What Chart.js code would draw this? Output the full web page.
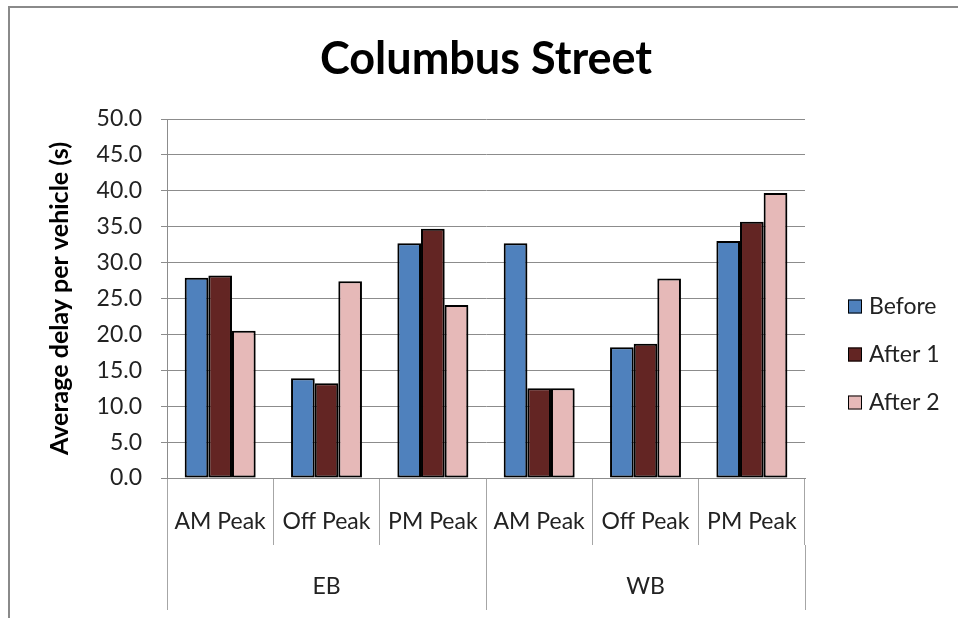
<!DOCTYPE html>
<html>
<head>
<meta charset="utf-8">
<title>Columbus Street</title>
<script src="https://cdn.jsdelivr.net/npm/chart.js@4.4.1/dist/chart.umd.min.js"></script>
<style>
  html, body { margin: 0; padding: 0; background: #fff; overflow: hidden; }
  #wrap { position: relative; width: 958px; height: 618px; }
  #wrap canvas { display: block; }
  /* thin grey frame around the chart */
  #frame {
    position: absolute; left: 8px; top: 6px; right: -10px; bottom: -10px;
    border-top: 2px solid #8a8a8a; border-left: 2px solid #8a8a8a;
    pointer-events: none;
  }
</style>
</head>
<body>
<div id="wrap">
  <canvas id="chart"></canvas>
  <div id="frame"></div>
</div>
<script>
// Time periods along the x axis, grouped by travel direction
const periods = ['AM Peak', 'Off Peak', 'PM Peak', 'AM Peak', 'Off Peak', 'PM Peak'];
const directions = ['EB', 'WB'];

// Average delay per vehicle (s)
const seriesNames = ['Before', 'After 1', 'After 2'];
const before = [27.9, 13.9, 32.7, 32.7, 18.2, 33.0];
const after1 = [28.2, 13.2, 34.7, 12.5, 18.7, 35.7];
const after2 = [20.5, 27.4, 24.1, 12.5, 27.8, 39.7];

const yTickLabels = ['0.0', '5.0', '10.0', '15.0', '20.0', '25.0', '30.0', '35.0', '40.0', '45.0', '50.0'];

const seriesColors = ['#4F81BD', '#632523', '#E6B9B8'];

Chart.defaults.font.family = 'Lato';
Chart.defaults.color = '#222';

// soft drop shadow under the bars
const barShadow = {
  id: 'barShadow',
  beforeDatasetsDraw(chart) {
    const c = chart.ctx;
    c.save();
    c.shadowColor = 'rgba(0,0,0,0.28)';
    c.shadowBlur = 3;
    c.shadowOffsetX = 1.5;
    c.shadowOffsetY = 1.5;
  },
  afterDatasetsDraw(chart) {
    chart.ctx.restore();
  }
};

// legend to the right of the plot, vertically centred on it
const sideLegend = {
  id: 'sideLegend',
  afterDraw(chart) {
    const { ctx, chartArea: a } = chart;
    const x = a.right + 43;
    const mid = (a.top + a.bottom) / 2 + 56;
    const gap = 48;
    const n = chart.data.datasets.length;
    ctx.save();
    ctx.font = '23px Lato';
    ctx.textBaseline = 'middle';
    ctx.textAlign = 'left';
    chart.data.datasets.forEach((ds, i) => {
      const y = mid + (i - (n - 1) / 2) * gap;
      ctx.fillStyle = ds.backgroundColor;
      ctx.fillRect(x, y - 7, 14, 14);
      ctx.strokeStyle = '#000';
      ctx.lineWidth = 1;
      ctx.strokeRect(x + 0.5, y - 6.5, 13, 13);
      ctx.fillStyle = '#222';
      ctx.fillText(ds.label, x + 21, y);
    });
    ctx.restore();
  }
};

const chart = new Chart(document.getElementById('chart'), {
  type: 'bar',
  data: {
    labels: periods,
    datasets: [
      { label: seriesNames[0], data: before, backgroundColor: seriesColors[0], xAxisID: 'x', yAxisID: 'y' },
      { label: seriesNames[1], data: after1, backgroundColor: seriesColors[1], xAxisID: 'x', yAxisID: 'y' },
      { label: seriesNames[2], data: after2, backgroundColor: seriesColors[2], xAxisID: 'x', yAxisID: 'y' }
    ]
  },
  options: {
    responsive: true,
    maintainAspectRatio: false,
    animation: false,
    layout: { padding: { left: 0, right: 153, top: 0, bottom: 0 } },
    datasets: {
      bar: {
        borderColor: '#000',
        borderWidth: 2,
        borderSkipped: false,
        categoryPercentage: 0.667,
        barPercentage: 1.0
      }
    },
    plugins: {
      legend: { display: false },
      tooltip: { enabled: false },
      title: {
        display: true,
        text: 'Columbus Street',
        fullSize: false,
        color: '#000',
        font: { family: 'Lato', size: 45, weight: 'bold' },
        padding: { top: 32, bottom: 33 }
      }
    },
    scales: {
      x: {
        type: 'category',
        position: 'bottom',
        offset: true,
        grid: {
          display: true, drawOnChartArea: false, drawTicks: true,
          tickLength: 67, color: '#a6a6a6', offset: true
        },
        border: { display: true, color: '#8c8c8c' },
        ticks: { padding: -37, maxRotation: 0, autoSkip: false, color: '#222', font: { size: 23 } },
        afterFit(s) { s.height = 67; }
      },
      xGroup: {
        type: 'category',
        position: 'bottom',
        labels: directions,
        offset: true,
        grid: {
          display: true, drawOnChartArea: false, drawTicks: true,
          tickLength: 65, color: '#a6a6a6', offset: true
        },
        border: { display: false },
        ticks: { padding: -37, maxRotation: 0, autoSkip: false, color: '#222', font: { size: 23 } },
        afterFit(s) { s.height = 73; }
      },
      y: {
        type: 'linear',
        position: 'left',
        min: 0,
        max: 50,
        ticks: {
          stepSize: 5,
          padding: 19,
          color: '#222',
          font: { size: 23 },
          callback: (v, i) => yTickLabels[i]
        },
        grid: { color: '#8c8c8c', tickLength: 6 },
        border: { display: true, color: '#8c8c8c' },
        title: {
          display: true,
          text: 'Average delay per vehicle (s)',
          color: '#000',
          font: { size: 25, weight: 'bold' },
          padding: { top: 45, bottom: 0 }
        },
        afterFit(s) { s.width = 167; }
      }
    }
  },
  plugins: [barShadow, sideLegend]
});
</script>
</body>
</html>
